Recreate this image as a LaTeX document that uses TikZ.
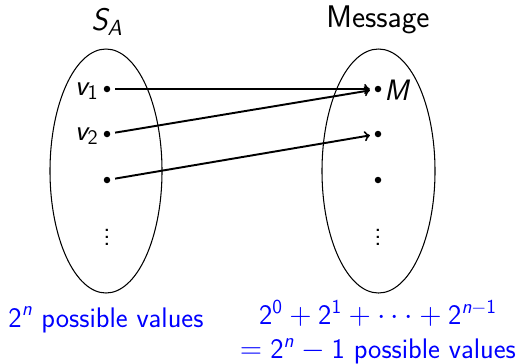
\documentclass[tikz,border=0pt]{standalone}
\usepackage{amsmath}
\newcommand\sv[1]{\textsf{\itshape #1}}
\newcommand\sd[1]{\textsf{#1}}
\begin{document}
\begin{tikzpicture}[x=0.02cm,y=-0.02cm,
  every node/.style={font=\fontsize{15.6}{20}\selectfont\sffamily},
  titlefont/.style={font=\fontsize{17.8}{21}\selectfont\sffamily},
  labelfont/.style={font=\fontsize{16.8}{20}\selectfont\sffamily},
  dot/.style={circle,fill=black,inner sep=0pt,minimum size=0.13cm,outer sep=0.1cm},
  setoval/.style={draw,line width=0.6pt},
  maparrow/.style={->,line width=1.1pt},
  note/.style={text=blue,align=center,font=\fontsize{16.1}{19.5}\selectfont\sffamily}]
\useasboundingbox (0,0) rectangle (516,363);
% ellipses
\draw[setoval] (106,171) ellipse [x radius=56, y radius=122];
\draw[setoval] (378.5,171) ellipse [x radius=56.5, y radius=122];
% titles
\node[titlefont] (sa) at (107,22) {$\sv{S}_{\sv{A}}$};
\node[titlefont] (msg) at (378,20) {Message};
% left dots
\node[dot] (l1) at (107,89) {};
\node[dot] (l2) at (107,134) {};
\node[dot] (l3) at (107,180) {};
\node (lvd) at (107,232) {$\vdots$};
\node[labelfont,anchor=east,inner sep=0pt] (v1) at (99,91) {$\sv{v}_{\sd{1}}$};
\node[labelfont,anchor=east,inner sep=0pt] (v2) at (99,136) {$\sv{v}_{\sd{2}}$};
% right dots
\node[dot] (r1) at (378,89) {};
\node[dot] (r2) at (378,134) {};
\node[dot] (r3) at (378,180) {};
\node (rvd) at (378,232) {$\vdots$};
\node[labelfont,anchor=west,inner sep=0pt] (m) at (384,90) {$\sv{M}$};
% arrows
\draw[maparrow] (l1) -- (r1);
\draw[maparrow] (l2) -- (r1);
\draw[maparrow] (l3) -- (r2);
% bottom notes
\node[note] (nl) at (106,320) {$\sd{2}^{\sv{n}}$ possible values};
\node[note] (nr) at (378,332) {$\sd{2}^{\sd{0}}+\sd{2}^{\sd{1}}+\cdots+\sd{2}^{\sv{n}-\sd{1}}$\\$=\sd{2}^{\sv{n}}-\sd{1}$ possible values};
\end{tikzpicture}
\end{document}
